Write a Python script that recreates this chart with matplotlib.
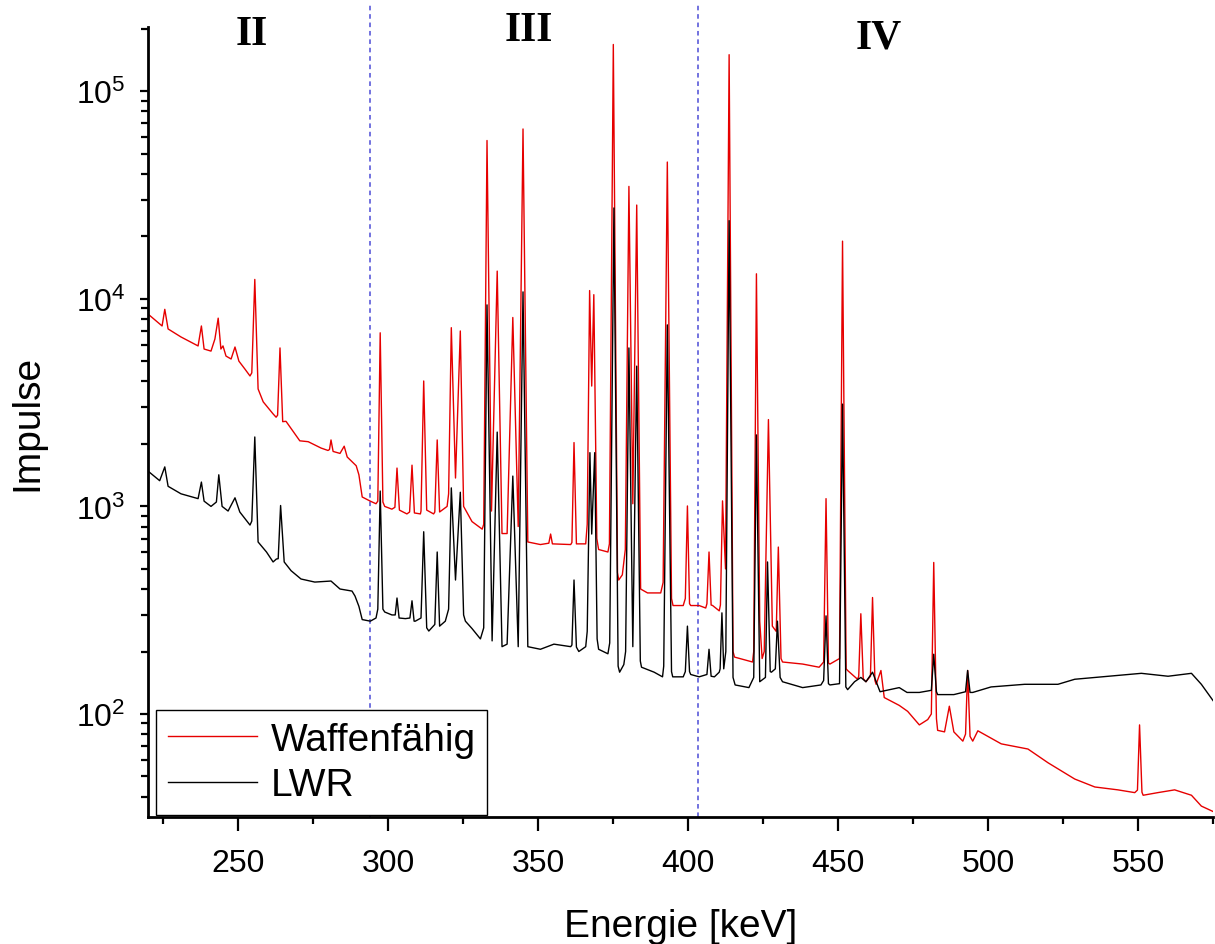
import matplotlib.pyplot as plt
from matplotlib.transforms import blended_transform_factory

plt.rcParams["font.family"] = ["Liberation Sans", "DejaVu Sans"]
plt.rcParams["mathtext.fontset"] = "custom"
plt.rcParams["mathtext.rm"] = "Liberation Sans"
plt.rcParams["mathtext.it"] = "Liberation Sans"

# Waffenfaehig spectrum (keV, counts)
wf_energy = [
    220, 224.7, 225.6, 226.7, 231, 236.7, 237.8, 238.7, 241, 242.3, 243.4, 244.3,
    245, 246, 247.7, 249, 250.3, 252.3, 254, 254.6, 255.6, 256.7, 258.4, 261.7,
    262.7, 263.2, 264, 264.9, 266, 270.6, 273.4, 277.7, 280, 280.5, 281, 281.7,
    284, 285.4, 286.4, 289.4, 290.3, 291.4, 294.1, 296, 296.6, 297.4, 298.3, 298.9,
    301.3, 302.3, 303, 303.8, 306.3, 307.2, 308, 308.8, 310.8, 311.0, 311.9, 312.9,
    315.2, 315.6, 316.4, 317.2, 319.7, 320.2, 321.1, 322.5, 324.1, 325.2, 328, 331.4,
    331.9, 333, 334.5, 336.4, 338, 339.7, 341.6, 343.4, 345, 346.6, 350.8, 353.6,
    354.2, 354.8, 360.9, 361.3, 362, 362.8, 365.9, 366.4, 367.2, 367.9, 368.6, 369.6,
    370.2, 373.3, 373.8, 375.1, 376.5, 376.9, 378.1, 379.1, 380.3, 381.6, 382.9, 384.2,
    386.5, 390.9, 391.7, 393.1, 394.5, 395.0, 398.4, 399.1, 399.8, 400.5, 400.9, 403.7,
    405.9, 406.3, 407, 407.7, 408.2, 410.4, 410.8, 411.5, 412.5, 413.7, 415.0, 415.5,
    421.5, 421.9, 422.8, 423.9, 424.7, 425.4, 426.8, 428.1, 429.4, 430.1, 431.0, 431.5,
    438.2, 443.7, 445.2, 446, 446.8, 447.3, 450.5, 451.5, 452.7, 453.2, 456.5, 456.9,
    457.6, 458.4, 459.3, 460.8, 461.5, 462.3, 462.7, 464.3, 465.4, 470.4, 473.2, 477.1,
    479.9, 481.1, 481.9, 482.8, 483.2, 485.5, 487.1, 488.6, 491.6, 492.5, 493.2, 494.0,
    494.9, 496.6, 504.4, 513.3, 520, 528.9, 535.6, 543.3, 548.9, 549.8, 550.5, 551.3,
    551.7, 556.6, 562.2, 567.8, 571.1, 575,
]
wf_counts = [
    8450, 7400, 8900, 7160, 6550, 5930, 7400, 5730, 5600, 6400, 8070, 5730,
    5930, 5300, 5130, 5860, 5010, 4590, 4250, 4400, 12400, 3680, 3190, 2790,
    2690, 2750, 5800, 2560, 2570, 2070, 2050, 1910, 1860, 1880, 2090, 1840,
    1800, 1950, 1730, 1570, 1420, 1110, 1060, 1030, 1060, 6860, 1050, 1000,
    970, 990, 1530, 960, 920, 940, 1580, 930, 920, 950, 4020, 960,
    920, 940, 2090, 940, 1000, 1150, 7260, 1370, 7000, 1000, 845, 777,
    820, 57900, 950, 13600, 740, 740, 8130, 800, 65800, 674, 655, 665,
    736, 660, 655, 670, 2030, 660, 660, 820, 10960, 3800, 10470, 700,
    620, 603, 660, 168000, 480, 442, 468, 620, 34800, 1030, 28300, 400,
    383, 383, 430, 45600, 360, 333, 333, 360, 1005, 340, 333, 333,
    324, 340, 603, 335, 333, 314, 335, 1063, 500, 150000, 200, 188,
    178, 200, 13200, 280, 185, 200, 2620, 265, 250, 637, 185, 178,
    174, 168, 178, 1090, 176, 174, 185, 18960, 165, 162, 147, 152,
    304, 148, 143, 152, 364, 145, 139, 162, 120, 110, 103, 88.6,
    94, 100, 537, 95, 83.4, 82, 109, 82, 74, 80, 162, 78,
    74, 83, 71.8, 67.8, 58.2, 48.6, 44.5, 43.1, 41.8, 43, 88.6, 42,
    40.6, 41.8, 43.1, 40.6, 36, 33.9,
]

# LWR spectrum (keV, counts)
lwr_energy = [
    220, 223.9, 225.6, 226.7, 231, 236.7, 237.8, 238.7, 241, 242.8, 243.6, 244.7,
    246.7, 249, 250.6, 254, 254.6, 255.6, 256.7, 259.5, 261.7, 262.8, 263.4, 264.2,
    265.4, 267.7, 271, 275.6, 281, 284, 288, 289, 290.3, 291.4, 294.1, 296,
    296.6, 297.4, 298.3, 298.9, 301.3, 302.4, 303, 303.7, 305.8, 307.3, 308, 308.7,
    309.1, 311.0, 311.9, 312.9, 313.6, 315.6, 316.4, 317.2, 319.1, 320.2, 321.1, 322.5,
    324.1, 325.2, 325.8, 328, 330.8, 331.9, 333, 334.7, 336.4, 338, 339.7, 341.6,
    343.4, 345, 346.6, 350.8, 355.3, 360.9, 361.3, 362, 362.8, 363.6, 365.9, 366.4,
    367.3, 367.9, 368.9, 369.7, 370.2, 373.3, 373.9, 375.3, 376.7, 377.2, 378.6, 379.2,
    380.3, 381.6, 382.9, 384.1, 384.5, 388.7, 391.5, 391.9, 393.1, 394.5, 394.9, 398.4,
    399.1, 399.8, 400.5, 400.9, 403.7, 406.3, 407, 407.7, 408.8, 410.4, 410.7, 411.3,
    411.9, 412.6, 413.7, 415.0, 415.7, 420.3, 421.9, 422.8, 423.9, 425.8, 426.5, 427.4,
    427.8, 429.1, 429.8, 430.7, 431.5, 438.2, 444.3, 445.2, 446, 446.8, 447.3, 450.5,
    451.5, 452.6, 453.2, 455.5, 457.6, 459.3, 461.5, 464, 470.4, 473, 477.1, 481.1,
    481.9, 482.8, 483.2, 488.6, 492.5, 493.2, 494.0, 494.9, 501, 512.2, 523.3, 528.9,
    540, 551.1, 560, 567.8, 571.1, 575,
]
lwr_counts = [
    1480, 1330, 1550, 1250, 1150, 1090, 1310, 1060, 1000, 1050, 1420, 1000,
    950, 1100, 940, 813, 850, 2160, 674, 603, 540, 558, 560, 1010,
    540, 490, 447, 432, 437, 400, 391, 370, 330, 285, 280, 290,
    320, 1186, 320, 310, 300, 300, 362, 290, 288, 290, 351, 280,
    280, 290, 755, 260, 251, 270, 603, 265, 280, 320, 1228, 442,
    1170, 300, 280, 258, 230, 260, 9350, 225, 2280, 211, 217, 1400,
    211, 10800, 211, 205, 217, 211, 215, 442, 210, 200, 211, 250,
    1815, 736, 1815, 230, 205, 195, 220, 27400, 170, 159, 173, 200,
    5800, 211, 4740, 180, 168, 159, 151, 170, 7490, 160, 151, 151,
    160, 265, 160, 155, 151, 155, 205, 152, 151, 159, 165, 307,
    165, 200, 23800, 150, 138, 134, 150, 2210, 143, 150, 540, 160,
    159, 165, 280, 150, 143, 134, 138, 145, 297, 140, 138, 140,
    3110, 135, 131, 143, 150, 143, 159, 128, 134, 127, 127, 130,
    194, 128, 124, 124, 128, 162, 127, 127, 135, 139, 139, 147,
    152, 157, 152, 157, 139, 116,
]

region_labels = ["II", "III", "IV"]
region_centers = [254.7, 346.8, 463.7]
region_heights = [0.991, 0.996, 0.987]
boundaries = [294.1, 403.2]

fig = plt.figure(figsize=(12.15, 9.45), dpi=100)
ax = fig.add_axes([0.1218, 0.1344, 0.8766, 0.836])

ax.plot(wf_energy, wf_counts, color="#e60000", lw=1.0, label="Waffenfähig")
ax.plot(lwr_energy, lwr_counts, color="black", lw=1.0, label="LWR")

ax.set_yscale("log")
ax.set_xlim(220, 575)
ax.set_ylim(31.9, 2.04e5)

for b in boundaries:
    ax.axvline(b, ymin=0, ymax=1.029, color="#4b4bd6", lw=1.1,
               linestyle=(0, (3, 2.5)), clip_on=False, zorder=1)

trans = blended_transform_factory(ax.transData, ax.transAxes)
for lab, xc, yc in zip(region_labels, region_centers, region_heights):
    ax.text(xc, yc, lab, transform=trans, ha="center", va="center",
            fontsize=30, fontweight="bold", family="Liberation Serif", clip_on=False)

ax.set_xticks([250, 300, 350, 400, 450, 500, 550])
ax.set_xticks([225, 275, 325, 375, 425, 475, 525, 575], minor=True)

for side in ["top", "right"]:
    ax.spines[side].set_visible(False)
for side in ["left", "bottom"]:
    ax.spines[side].set_linewidth(2)

ax.tick_params(axis="x", which="major", direction="out", length=10, width=1.6,
               labelsize=23, pad=12)
ax.tick_params(axis="x", which="minor", direction="out", length=5, width=1.6)
ax.tick_params(axis="y", which="major", direction="out", length=6, width=1.6,
               labelsize=23, pad=10)
ax.tick_params(axis="y", which="minor", direction="out", length=5, width=1.6)

ax.set_xlabel("Energie [keV]", fontsize=28, labelpad=22)
ax.set_ylabel("Impulse", fontsize=28, labelpad=22)

leg = ax.legend(loc="lower left", bbox_to_anchor=(0.0075, 0.0025), borderaxespad=0,
                fontsize=28, handlelength=2.3, handletextpad=0.35, borderpad=0.3,
                labelspacing=0.25, fancybox=False, framealpha=1, edgecolor="black")
leg.get_frame().set_linewidth(1.0)

fig.savefig("out.png", dpi=100)
